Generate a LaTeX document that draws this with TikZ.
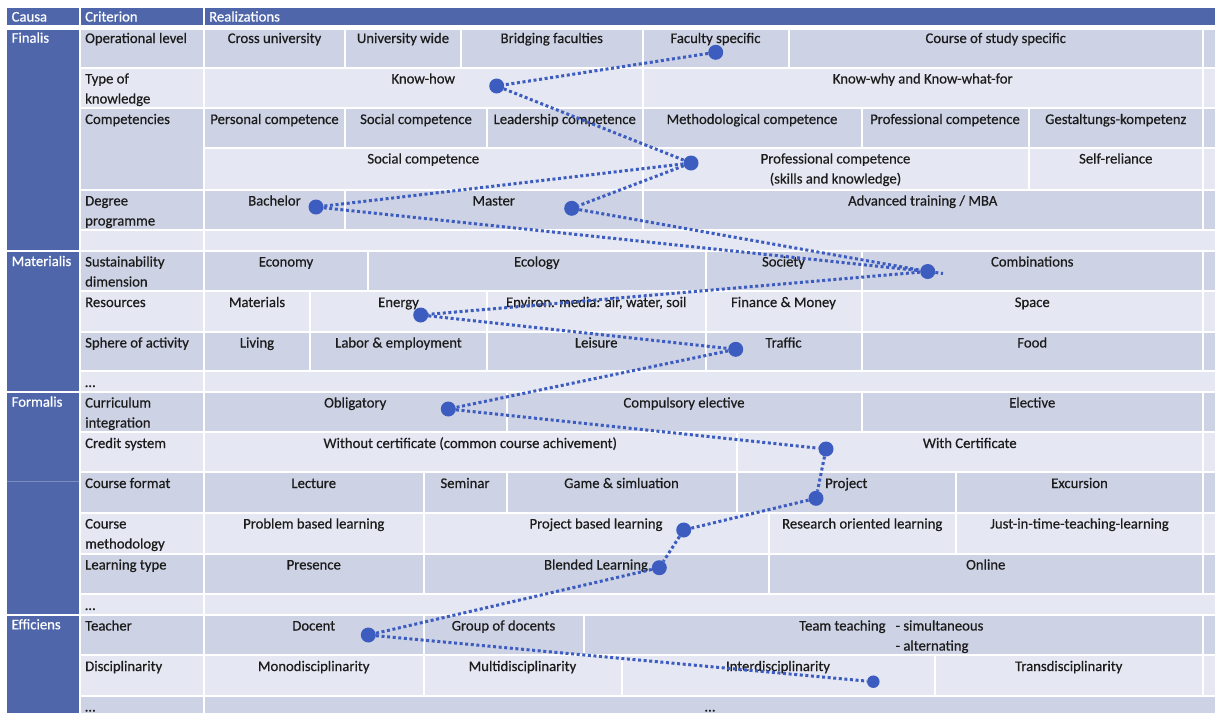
\documentclass[tikz,border=0pt]{standalone}
\usepackage{fontspec}
\setmainfont{Carlito}[RawFeature={embolden=0.5}]
\definecolor{hblue}{HTML}{4F67AA}
\definecolor{cdark}{HTML}{CDD2E4}
\definecolor{clight}{HTML}{E5E8F2}
\definecolor{ink}{HTML}{1C1C1C}
\definecolor{pathc}{HTML}{3C5CC0}
\pgfdeclarelayer{fore}
\pgfsetlayers{main,fore}
\newcommand\twol[2]{\begin{tabular}[t]{@{}l@{}}#1\\#2\end{tabular}}
\newcommand\twoc[2]{\begin{tabular}[t]{@{}c@{}}#1\\#2\end{tabular}}
\def\boff{15}
% name x1 x2 ytop ybot fill text
\newcommand\rcell[7]{\fill[#6] (#2,#4) rectangle (#3,#5);
  \node[txt] (#1) at ({(#2+#3)/2},{#4+\boff}) {#7};}
% extra narrow column at the right
\newcommand\xcell[3]{\fill[#3] (1204,#1) rectangle (1215,#2);}
% criterion cell: name ytop ybot fill text
\newcommand\ccell[5]{\fill[#4] (80.5,#2) rectangle (202.5,#3);
  \node[txt, anchor=base west] (#1) at (85,{#2+\boff}) {#5};}
\tikzset{
  txt/.style={inner sep=0pt, anchor=base, text=ink, font=\fontsize{14.7}{20}\selectfont},
  htxt/.style={inner sep=0pt, anchor=base west, text=white, font=\fontsize{14.7}{20}\selectfont},
  dotline/.style={draw=pathc, line width=3pt, dash pattern=on 3pt off 2.6pt},
  dotc/.style={circle, fill=pathc, minimum size=15pt, inner sep=0pt},
}
\begin{document}
\begin{tikzpicture}[x=1pt, y=-1pt]
\useasboundingbox (0,0) rectangle (1215,713);
% header
\fill[hblue] (7,8) rectangle (78.5,25);
\fill[hblue] (80.5,8) rectangle (202.5,25);
\fill[hblue] (204.5,8) rectangle (1215,25);
\node[htxt] (hcausa) at (11.5,21.5) {Causa};
\node[htxt] (hcrit) at (85,21.5) {Criterion};
\node[htxt] (hreal) at (209,21.5) {Realizations};
% causa column
\fill[hblue] (7,30) rectangle (78.5,249.5);
\fill[hblue] (7,251.5) rectangle (78.5,390.5);
\fill[hblue] (7,392.5) rectangle (78.5,613.5);
\fill[hblue] (7,615.5) rectangle (78.5,713);
\draw[hblue!75!white, line width=0.6pt] (7,481.5) -- (78.5,481.5);
\node[htxt] (finalis) at (11.5,42.7) {Finalis};
\node[htxt] (materialis) at (11.5,266) {Materialis};
\node[htxt] (formalis) at (11.5,406.7) {Formalis};
\node[htxt] (efficiens) at (11.5,629.3) {Efficiens};
% ---------- Finalis
\def\boff{13}
\ccell{c1}{30}{66.5}{cdark}{Operational level}
\rcell{r1a}{205}{344}{30}{66.5}{cdark}{Cross university}
\rcell{r1b}{346}{460}{30}{66.5}{cdark}{University wide}
\rcell{r1c}{462}{641.5}{30}{66.5}{cdark}{Bridging faculties}
\rcell{r1d}{643.5}{787.5}{30}{66.5}{cdark}{Faculty specific}
\rcell{r1e}{789.5}{1202}{30}{66.5}{cdark}{Course of study specific}
\xcell{30}{66.5}{cdark}
\def\boff{15}
\ccell{c2}{68.5}{107}{clight}{\twol{Type of}{knowledge}}
\rcell{r2a}{205}{641.5}{68.5}{107}{clight}{Know-how}
\rcell{r2b}{643.5}{1202}{68.5}{107}{clight}{Know-why and Know-what-for}
\xcell{68.5}{107}{clight}
\ccell{c3}{109}{188.5}{cdark}{Competencies}
\rcell{r3a}{205}{344}{109}{146.5}{cdark}{Personal competence}
\rcell{r3b}{346}{486}{109}{146.5}{cdark}{Social competence}
\rcell{r3c}{488}{641.5}{109}{146.5}{cdark}{Leadership competence}
\rcell{r3d}{643.5}{860.5}{109}{146.5}{cdark}{Methodological competence}
\rcell{r3e}{862.5}{1027.5}{109}{146.5}{cdark}{Professional competence}
\rcell{r3f}{1029.5}{1202}{109}{146.5}{cdark}{Gestaltungs-kompetenz}
\xcell{109}{146.5}{cdark}
\rcell{r3g}{205}{641.5}{148.5}{188.5}{clight}{Social competence}
\rcell{r3h}{643.5}{1027.5}{148.5}{188.5}{clight}{\twoc{Professional competence}{(skills and knowledge)}}
\rcell{r3i}{1029.5}{1202}{148.5}{188.5}{clight}{Self-reliance}
\xcell{148.5}{188.5}{clight}
\ccell{c4}{190.5}{229}{cdark}{\twol{Degree}{programme}}
\rcell{r4a}{205}{344}{190.5}{229}{cdark}{Bachelor}
\rcell{r4b}{346}{641.5}{190.5}{229}{cdark}{Master}
\rcell{r4c}{643.5}{1202}{190.5}{229}{cdark}{Advanced training / MBA}
\xcell{190.5}{229}{cdark}
\ccell{c5}{231}{249.5}{clight}{}
\rcell{r5}{205}{1215}{231}{249.5}{clight}{}
% ---------- Materialis
\ccell{c6}{251.5}{290}{cdark}{\twol{Sustainability}{dimension}}
\rcell{r6a}{205}{367}{251.5}{290}{cdark}{Economy}
\rcell{r6b}{369}{704.5}{251.5}{290}{cdark}{Ecology}
\rcell{r6c}{706.5}{860.5}{251.5}{290}{cdark}{Society}
\rcell{r6d}{862.5}{1202}{251.5}{290}{cdark}{Combinations}
\xcell{251.5}{290}{cdark}
\ccell{c7}{292}{330.5}{clight}{Resources}
\rcell{r7a}{205}{309}{292}{330.5}{clight}{Materials}
\rcell{r7b}{311}{486}{292}{330.5}{clight}{Energy}
\rcell{r7c}{488}{704.5}{292}{330.5}{clight}{Environ. media: air, water, soil}
\rcell{r7d}{706.5}{860.5}{292}{330.5}{clight}{Finance \& Money}
\rcell{r7e}{862.5}{1202}{292}{330.5}{clight}{Space}
\xcell{292}{330.5}{clight}
\ccell{c8}{332.5}{370}{cdark}{Sphere of activity}
\rcell{r8a}{205}{309}{332.5}{370}{cdark}{Living}
\rcell{r8b}{311}{486}{332.5}{370}{cdark}{Labor \& employment}
\rcell{r8c}{488}{704.5}{332.5}{370}{cdark}{Leisure}
\rcell{r8d}{706.5}{860.5}{332.5}{370}{cdark}{Traffic}
\rcell{r8e}{862.5}{1202}{332.5}{370}{cdark}{Food}
\xcell{332.5}{370}{cdark}
\ccell{c9}{372}{390.5}{clight}{…}
\rcell{r9}{205}{1215}{372}{390.5}{clight}{}
% ---------- Formalis
\ccell{c10}{392.5}{431}{cdark}{\twol{Curriculum}{integration}}
\rcell{r10a}{205}{505.5}{392.5}{431}{cdark}{Obligatory}
\rcell{r10b}{507.5}{860.5}{392.5}{431}{cdark}{Compulsory elective}
\rcell{r10c}{862.5}{1202}{392.5}{431}{cdark}{Elective}
\xcell{392.5}{431}{cdark}
\ccell{c11}{433}{471}{clight}{Credit system}
\rcell{r11a}{205}{735.5}{433}{471}{clight}{Without certificate (common course achivement)}
\rcell{r11b}{737.5}{1202}{433}{471}{clight}{With Certificate}
\xcell{433}{471}{clight}
\ccell{c12}{473}{511.5}{cdark}{Course format}
\rcell{r12a}{205}{422.5}{473}{511.5}{cdark}{Lecture}
\rcell{r12b}{424.5}{505.5}{473}{511.5}{cdark}{Seminar}
\rcell{r12c}{507.5}{735.5}{473}{511.5}{cdark}{Game \& simluation}
\rcell{r12d}{737.5}{955}{473}{511.5}{cdark}{Project}
\rcell{r12e}{957}{1202}{473}{511.5}{cdark}{Excursion}
\xcell{473}{511.5}{cdark}
\ccell{c13}{513.5}{552.5}{clight}{\twol{Course}{methodology}}
\rcell{r13a}{205}{422.5}{513.5}{552.5}{clight}{Problem based learning}
\rcell{r13b}{424.5}{767.5}{513.5}{552.5}{clight}{Project based learning}
\rcell{r13c}{769.5}{955}{513.5}{552.5}{clight}{Research oriented learning}
\rcell{r13d}{957}{1202}{513.5}{552.5}{clight}{Just-in-time-teaching-learning}
\xcell{513.5}{552.5}{clight}
\ccell{c14}{554.5}{593}{cdark}{Learning type}
\rcell{r14a}{205}{422.5}{554.5}{593}{cdark}{Presence}
\rcell{r14b}{424.5}{767.5}{554.5}{593}{cdark}{Blended Learning}
\rcell{r14c}{769.5}{1202}{554.5}{593}{cdark}{Online}
\xcell{554.5}{593}{cdark}
\ccell{c15}{595}{613.5}{clight}{…}
\rcell{r15}{205}{1215}{595}{613.5}{clight}{}
% ---------- Efficiens
\ccell{c16}{615.5}{654}{cdark}{Teacher}
\rcell{r16a}{205}{422.5}{615.5}{654}{cdark}{Docent}
\rcell{r16b}{424.5}{582.5}{615.5}{654}{cdark}{Group of docents}
\fill[cdark] (584.5,615.5) rectangle (1202,654);
\node[txt, anchor=base west] (r16c) at (799,630.5)
  {\begin{tabular}[t]{@{}l@{\hspace{10pt}}l@{}}Team teaching & - simultaneous\\ & - alternating\end{tabular}};
\xcell{615.5}{654}{cdark}
\ccell{c17}{656}{694.5}{clight}{Disciplinarity}
\rcell{r17a}{205}{422.5}{656}{694.5}{clight}{Monodisciplinarity}
\rcell{r17b}{424.5}{620.5}{656}{694.5}{clight}{Multidisciplinarity}
\rcell{r17c}{622.5}{933.5}{656}{694.5}{clight}{Interdisciplinarity}
\rcell{r17d}{935.5}{1202}{656}{694.5}{clight}{Transdisciplinarity}
\xcell{656}{694.5}{clight}
\ccell{c18}{696.5}{713}{cdark}{…}
\rcell{r18}{205}{1215}{696.5}{713}{cdark}{…}
% ---------- path markers
\begin{pgfonlayer}{fore}
\node[dotc] (d1) at (715.7,52.3) {};
\node[dotc] (d2) at (496.7,86) {};
\node[dotc] (d3) at (691,163) {};
\node[dotc] (d4) at (316,207) {};
\node[dotc] (d5) at (571.7,208.3) {};
\node[dotc] (d6) at (927.7,271.5) {};
\node[dotc] (d7) at (420.7,315) {};
\node[dotc] (d8) at (735.7,349.3) {};
\node[dotc] (d9) at (448.3,409) {};
\node[dotc] (d10) at (826,449) {};
\node[dotc] (d11) at (816,498.3) {};
\node[dotc] (d12) at (683.7,530) {};
\node[dotc] (d13) at (659.3,567.7) {};
\node[dotc] (d14) at (368.3,635) {};
\node[dotc, minimum size=12.5pt] (d15) at (873.3,681.7) {};
\end{pgfonlayer}
\coordinate (tail) at (943,273.5);
\draw[dotline] (d1) -- (d2);
\draw[dotline] (d2) -- (d3);
\draw[dotline] (d3) -- (d4);
\draw[dotline] (d3) -- (d5);
\draw[dotline] (d4) -- (d6);
\draw[dotline] (d5) -- (d6);
\draw[dotline] (d6) -- (tail);
\draw[dotline] (d6) -- (d7);
\draw[dotline] (d7) -- (d8);
\draw[dotline] (d8) -- (d9);
\draw[dotline] (d9) -- (d10);
\draw[dotline] (d10) -- (d11);
\draw[dotline] (d11) -- (d12);
\draw[dotline] (d12) -- (d13);
\draw[dotline] (d13) -- (d14);
\draw[dotline] (d14) -- (d15);
\end{tikzpicture}
\end{document}
